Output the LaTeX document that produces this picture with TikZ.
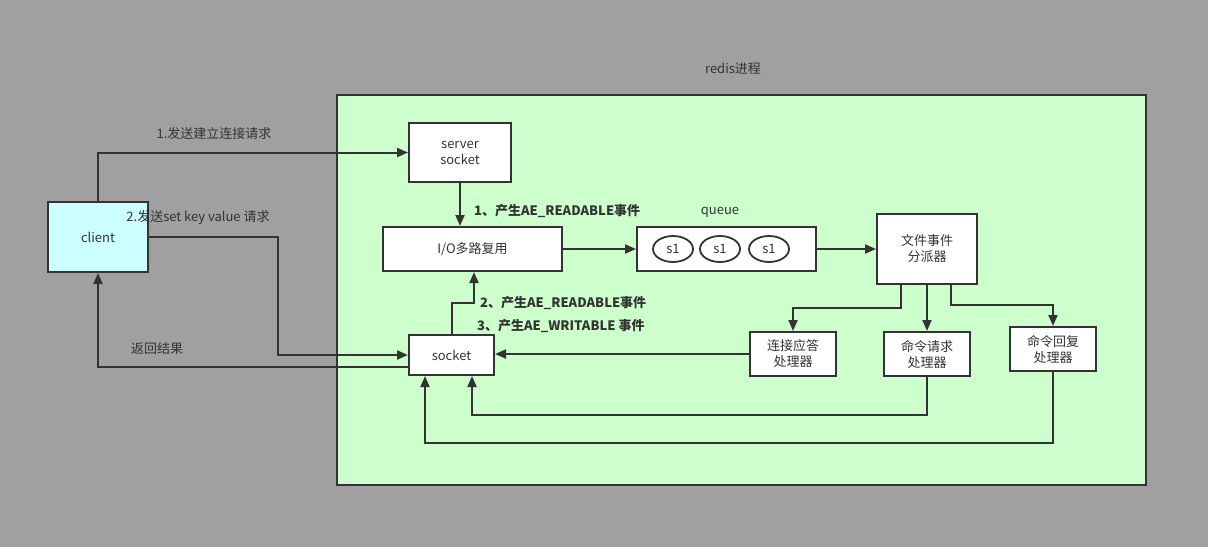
\documentclass[tikz,border=0pt]{standalone}
\usepackage{fontspec}
\setmainfont{Noto Sans CJK SC}
\usetikzlibrary{arrows.meta,shapes.geometric}
\definecolor{bgray}{HTML}{A0A0A0}
\definecolor{cgreen}{HTML}{CCFFCC}
\definecolor{ccyan}{HTML}{CCFFFF}
\definecolor{ink}{HTML}{333333}
\begin{document}
\begin{tikzpicture}[x=1pt,y=-1pt,
  font=\fontsize{13}{16}\selectfont,
  box/.style={draw=ink,line width=2pt,fill=white,inner sep=0pt,align=center,text=ink},
  conn/.style={draw=ink,line width=2pt,-{Triangle[length=11pt,width=9pt]}},
  lab/.style={text=ink,inner sep=0pt},
  blab/.style={text=ink,inner sep=0pt,font=\fontsize{13}{16}\selectfont\bfseries,anchor=west},
  sone/.style={draw=ink,line width=1.8pt,ellipse,fill=white,minimum width=40pt,minimum height=26pt,inner sep=0pt,text=ink}
]
\useasboundingbox (0,0) rectangle (1208,547);
\fill[bgray] (0,0) rectangle (1208,547);
\node[draw=ink,line width=2pt,fill=cgreen,minimum width=809pt,minimum height=390pt,inner sep=0pt] (redis) at (741.5,290) {};
\node[lab] (redislab) at (733,69) {redis进程};

\node[box,fill=ccyan,minimum width=100pt,minimum height=70pt] (client) at (98,237) {client};
\node[box,minimum width=102pt,minimum height=59pt] (ss) at (460,152.5) {server\\socket};
\node[box,minimum width=179pt,minimum height=44pt] (io) at (472.5,249) {I/O多路复用};
\node[box,minimum width=179pt,minimum height=44pt] (queue) at (726.5,249) {};
\node[lab] (queuelab) at (720,212) {queue};
\node[sone] (e1) at (673,249) {s1};
\node[sone] (e2) at (720,249) {s1};
\node[sone] (e3) at (769,249) {s1};
\node[box,minimum width=100pt,minimum height=70pt] (disp) at (927,249) {文件事件\\分派器};
\node[box,minimum width=86pt,minimum height=44pt] (h1) at (793,354) {连接应答\\处理器};
\node[box,minimum width=86pt,minimum height=44pt] (h2) at (927,354) {命令请求\\处理器};
\node[box,minimum width=86pt,minimum height=44pt] (h3) at (1053,349) {命令回复\\处理器};
\node[box,minimum width=85pt,minimum height=40pt] (sock) at (451.5,355) {socket};

% client -> server socket
\draw[conn] (client.north) |- (ss.west);
\node[lab] (l1) at (214,134) {1.发送建立连接请求};
% client -> socket
\coordinate (c2) at (278,237);
\draw[conn] (client.east) -- (c2) |- (sock.west);
\node[lab] (l2) at (198,218) {2.发送set key value 请求};
% socket -> client
\coordinate (c3) at (98,367);
\draw[conn] (sock.west |- c3) -- (c3) -- (client.south);
\node[lab] (l3) at (157,349) {返回结果};

% server socket -> io
\draw[conn] (ss.south) -- (io.north -| ss.south);
\node[blab] (b1) at (474,211) {1、产生AE\_READABLE事件};
% socket -> io
\coordinate (c5) at (452,303);
\coordinate (c5b) at (474,303);
\draw[conn] (sock.north -| c5) -- (c5) -- (c5b) -- (io.south -| c5b);
\node[blab] (b2) at (480,303) {2、产生AE\_READABLE事件};
\node[blab] (b3) at (477,326) {3、产生AE\_WRITABLE 事件};

\draw[conn] (io.east) -- (queue.west);
\draw[conn] (queue.east) -- (disp.west);

% dispatcher -> handlers
\coordinate (d1) at (901,308);
\draw[conn] (disp.south -| d1) -- (d1) -| (h1.north);
\draw[conn] (disp.south) -- (h2.north);
\coordinate (d3) at (951,305);
\draw[conn] (disp.south -| d3) -- (d3) -| (h3.north);

% handlers -> socket
\draw[conn] (h1.west) -- (sock.east |- h1.west);
\coordinate (r2) at (472,415);
\draw[conn] (h2.south) |- (r2) -- (sock.south -| r2);
\coordinate (r3) at (425,443);
\draw[conn] (h3.south) |- (r3) -- (sock.south -| r3);
\end{tikzpicture}
\end{document}
